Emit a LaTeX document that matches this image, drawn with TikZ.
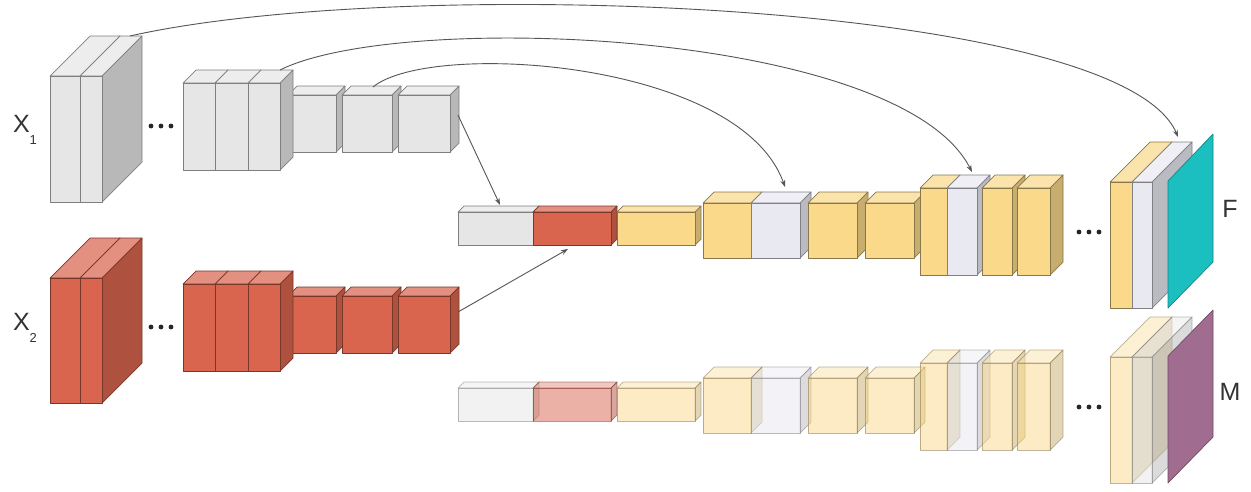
\documentclass[tikz,border=0pt]{standalone}
\usepackage{fontspec}
\setmainfont{Liberation Sans}
\usetikzlibrary{arrows.meta}
\definecolor{fgray}{HTML}{E6E6E6}
\definecolor{fred}{HTML}{D9654F}
\definecolor{fyel}{HTML}{FAD98A}
\definecolor{flav}{HTML}{E9E9F1}
\definecolor{fteal}{HTML}{1CBFC0}
\definecolor{fpurp}{HTML}{A06D90}
\definecolor{linkc}{HTML}{555555}

% feature-map cuboid: [extra style]{x}{y}{width}{height}{depth}{colour}
% (x,y) is the top-left corner of the front face, y grows downwards
\newcommand\fmapbox[7][]{%
  \filldraw[boxface,fill=#7!72!white,draw=#7!55!black,#1]
    (#2,#3) -- ++(#6,-#6) -- ++(#4,0) -- ++(-#6,#6) -- cycle;
  \filldraw[boxface,fill=#7!80!black,draw=#7!55!black,#1]
    (#2+#4,#3) -- ++(#6,-#6) -- ++(0,#5) -- ++(-#6,#6) -- cycle;
  \filldraw[boxface,fill=#7,draw=#7!55!black,#1]
    (#2,#3) rectangle ++(#4,#5);}

\tikzset{
  boxface/.style={line width=0.7pt, line join=round},
  faded/.style={fill opacity=0.5, draw opacity=0.55},
  link/.style={draw=linkc, line width=0.9pt, -{Stealth[length=7pt,width=5pt]}},
  lbl/.style={font=\fontsize{25}{25}\selectfont, text=black!80, inner sep=0pt},
  dotmark/.style={fill=black!85}
}

\begin{document}
\begin{tikzpicture}[x=1pt,y=-1pt]
\fill[white] (0,0) rectangle (1251,491);
\useasboundingbox (0,0) rectangle (1251,491);

% ---------- encoder for X1 ----------
\fmapbox{50}{76}{30}{126}{40}{fgray}
\fmapbox{80}{76}{22}{126}{40}{fgray}
\foreach \dx in {151,161,171} \fill[dotmark] (\dx,126) circle (2.4);
\fmapbox{288}{95}{48}{57}{9}{fgray}
\fmapbox{342}{95}{50}{57}{9}{fgray}
\fmapbox{398}{95}{52}{57}{9}{fgray}
\fmapbox{183}{83}{32}{87}{13}{fgray}
\fmapbox{215}{83}{33}{87}{13}{fgray}
\fmapbox{248}{83}{32}{87}{13}{fgray}

% ---------- encoder for X2 ----------
\fmapbox{50}{278}{30}{125}{40}{fred}
\fmapbox{80}{278}{22}{125}{40}{fred}
\foreach \dx in {151,161,171} \fill[dotmark] (\dx,327) circle (2.4);
\fmapbox{288}{296}{48}{57}{9}{fred}
\fmapbox{342}{296}{50}{57}{9}{fred}
\fmapbox{398}{296}{52}{57}{9}{fred}
\fmapbox{183}{284}{32}{87}{13}{fred}
\fmapbox{215}{284}{33}{87}{13}{fred}
\fmapbox{248}{284}{32}{87}{13}{fred}

% ---------- labels ----------
\node[lbl] (lx1) at (25,130) {X\raisebox{-0.5em}{\fontsize{13}{13}\selectfont 1}};
\node[lbl] (lx2) at (25,328) {X\raisebox{-0.5em}{\fontsize{13}{13}\selectfont 2}};

% ---------- fusion decoder, F branch ----------
\fmapbox{458}{212}{75}{33}{6}{fgray}
\fmapbox{533}{212}{78}{33}{6}{fred}
\fmapbox{617}{212}{78}{33}{6}{fyel}
\fmapbox{703}{203}{48}{55}{11}{fyel}
\fmapbox{751}{203}{49}{55}{11}{flav}
\fmapbox{808}{203}{49}{55}{11}{fyel}
\fmapbox{865}{203}{49}{55}{11}{fyel}
\fmapbox{920}{188}{27}{87}{13}{fyel}
\fmapbox{947}{188}{30}{87}{13}{flav}
\fmapbox{982}{188}{30}{87}{13}{fyel}
\fmapbox{1017}{188}{33}{87}{13}{fyel}
\foreach \dx in {1079,1089,1099} \fill[dotmark] (\dx,232) circle (2.4);
\fmapbox{1110}{182}{22}{126}{40}{fyel}
\fmapbox{1132}{182}{20}{126}{40}{flav}
\filldraw[boxface,fill=fteal,draw=fteal!70!black]
  (1168,181) -- (1213,134) -- (1213,262) -- (1168,308) -- cycle;
\node[lbl] (lf) at (1230,209) {F};

% ---------- fusion decoder, M branch ----------
\fmapbox[faded]{458}{388}{75}{33}{6}{fgray}
\fmapbox[faded]{533}{388}{78}{33}{6}{fred}
\fmapbox[faded]{617}{388}{78}{33}{6}{fyel}
\fmapbox[faded]{703}{378}{48}{55}{11}{fyel}
\fmapbox[faded]{751}{378}{49}{55}{11}{flav}
\fmapbox[faded]{808}{378}{49}{55}{11}{fyel}
\fmapbox[faded]{865}{378}{49}{55}{11}{fyel}
\fmapbox[faded]{920}{363}{27}{87}{13}{fyel}
\fmapbox[faded]{947}{363}{30}{87}{13}{flav}
\fmapbox[faded]{982}{363}{30}{87}{13}{fyel}
\fmapbox[faded]{1017}{363}{33}{87}{13}{fyel}
\foreach \dx in {1079,1089,1099} \fill[dotmark] (\dx,407) circle (2.4);
\fmapbox[faded]{1110}{357}{22}{126}{40}{fyel}
\fmapbox[faded]{1132}{357}{20}{126}{40}{fgray}
\filldraw[boxface,fill=fpurp,draw=fpurp!70!black]
  (1168,356) -- (1213,310) -- (1213,437) -- (1168,483) -- cycle;
\node[lbl] (lm) at (1230,392) {M};

% ---------- connector end points ----------
\coordinate (s1) at (130,36);  \coordinate (e1) at (1178,137);
\coordinate (s2) at (280,70);  \coordinate (e2) at (972,172);
\coordinate (s3) at (373,87);  \coordinate (e3) at (785,187);
\coordinate (s4) at (458,115); \coordinate (e4) at (500,205);
\coordinate (s5) at (458,312); \coordinate (e5) at (568,249);

% skip connections
\draw[link] (s1) .. controls (400,-25) and (1120,0) .. (e1);
\draw[link] (s2) .. controls (400,10) and (900,30) .. (e2);
\draw[link] (s3) .. controls (430,40) and (740,60) .. (e3);
% bottleneck inputs
\draw[link] (s4) -- (e4);
\draw[link] (s5) -- (e5);
\end{tikzpicture}
\end{document}
